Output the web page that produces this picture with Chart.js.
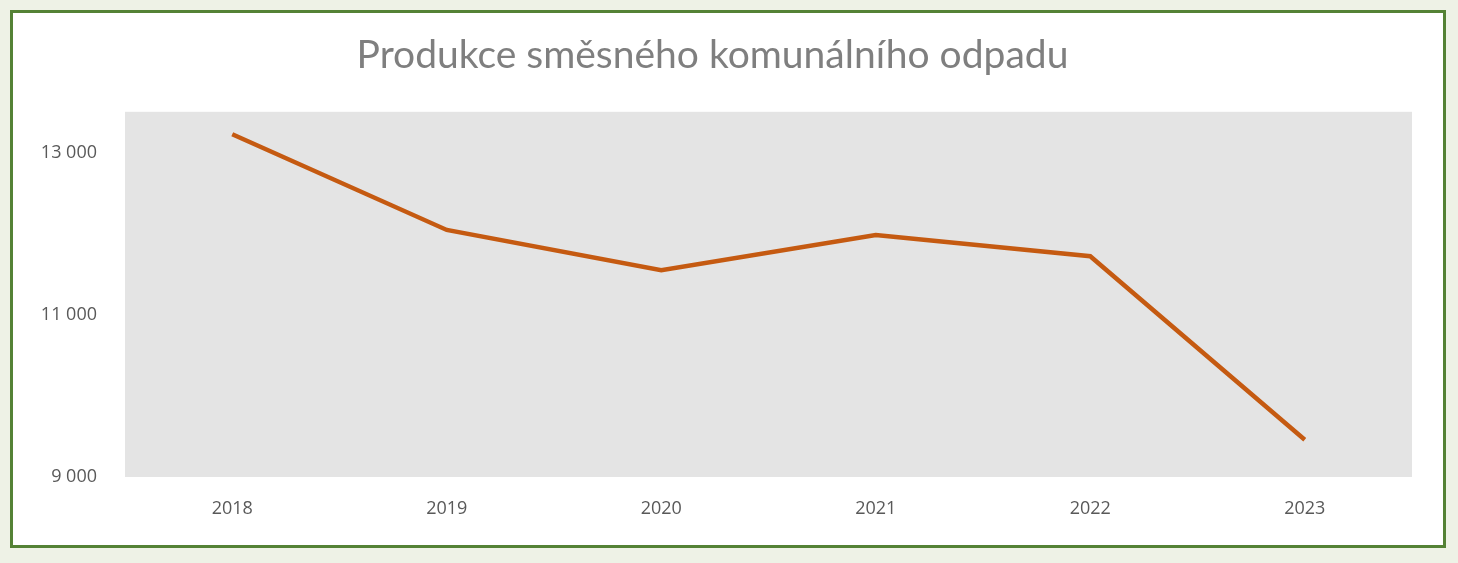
<!DOCTYPE html>
<html><head><meta charset="utf-8">
<script src="https://cdn.jsdelivr.net/npm/chart.js@4"></script>
<style>
html,body{margin:0;padding:0;background:#eef2e6;width:1458px;height:563px;overflow:hidden}
#box{position:absolute;left:10px;top:10px;width:1436px;height:538px;box-sizing:border-box;border:3px solid #548235;background:#fff}
</style></head><body>
<div id="box"><canvas id="c" width="1430" height="532"></canvas></div>
<script>
const categories=["2018","2019","2020","2021","2022","2023"];
const values=[13224,12044,11547,11982,11721,9460];
const plotBg={id:'plotBg',beforeDraw(ch){const a=ch.chartArea,c=ch.ctx;c.save();c.fillStyle='#e4e4e4';c.fillRect(a.left,a.top,a.right-a.left,a.bottom-a.top);c.restore();}};
new Chart(document.getElementById('c'),{
type:'line',
data:{labels:categories,datasets:[{data:values,borderColor:'#c55a11',borderWidth:4.5,pointRadius:0,tension:0}]},
options:{responsive:false,animation:false,
layout:{padding:{left:0,right:31,top:0,bottom:22}},
plugins:{legend:{display:false},tooltip:{enabled:false},
title:{display:true,text:'Produkce směsného komunálního odpadu',color:'#7f7f7f',font:{family:'Lato, sans-serif',size:39,weight:'normal'},padding:{top:19,bottom:33}}},
scales:{
x:{offset:true,grid:{display:false},border:{display:false},ticks:{color:'#595959',font:{size:18,family:'"Open Sans", sans-serif'},padding:13},afterFit(s){s.height=46;}},
y:{min:9000,max:13500,grid:{display:false},border:{display:false},
afterBuildTicks(s){s.ticks=[9000,11000,13000].map(v=>({value:v}));},
ticks:{color:'#595959',font:{size:18,family:'"Open Sans", sans-serif'},padding:20,callback:v=>v.toLocaleString('cs-CZ').replace(/\s/g,' ')},
afterFit(s){s.width=112;}}
}},
plugins:[plotBg]});
</script></body></html>
